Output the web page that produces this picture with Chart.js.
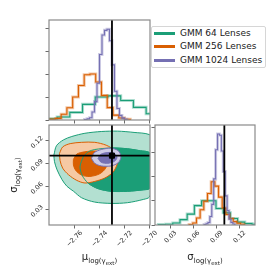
<!DOCTYPE html>
<html>
<head>
<meta charset="utf-8">
<script src="https://cdn.jsdelivr.net/npm/chart.js@4.4.0/dist/chart.umd.min.js"></script>
<style>
    body { margin: 0; width: 275px; height: 275px; background: #fff; position: relative; overflow: hidden; }
    canvas { position: absolute; left: 0; top: 0; }
    #legend {
        position: absolute; left: 151px; top: 26px; width: 115px; height: 42px;
        box-sizing: border-box; border: 1px solid #d6d6d6; border-radius: 2px; background: #fff;
        font: 9px "DejaVu Sans"; color: #1a1a1a;
    }
    #legend .row { position: relative; height: 13.3px; line-height: 13.3px; padding-left: 28px; white-space: nowrap; }
    #legend .sw { position: absolute; left: 1.5px; top: 5.2px; width: 21.5px; height: 3px; }
</style>
</head>
<body>
<canvas id="topHist" width="275" height="275"></canvas>
<canvas id="contour" width="275" height="275"></canvas>
<canvas id="sideHist" width="275" height="275"></canvas>
<div id="legend"></div>
<script>
const seriesNames = ['GMM 64 Lenses', 'GMM 256 Lenses', 'GMM 1024 Lenses'];
const seriesColors = ['#1b9e77', '#d95f02', '#7570b3'];
const seriesLight = ['#b3e0d1', '#f6c9a4', '#cdcbe6'];
const seriesHalo = ['rgba(27,158,119,0.35)', 'rgba(217,95,2,0.35)', 'rgba(117,112,179,0.35)'];

const truthMu = -2.73;
const truthSigma = 0.10;
const muRange = [-2.7805, -2.6995];
const sigmaRange = [0.0095, 0.1400];
const muTicks = [-2.76, -2.74, -2.72, -2.70];
const sigmaTicks = [0.03, 0.06, 0.09, 0.12];
const histTicks = [0, 1, 2, 3, 4];
const muHistMax = 4.35;
const sigmaHistMax = 4.12;

// titles: symbol + subscript pieces
const muSymbol = 'μ';
const sigmaSymbol = 'σ';
const titleSub = ['log(γ', 'ext', ')'];

// histograms: first bin edge, bin width, bin heights
const muBinStart = [-2.7842, -2.7800, -2.7520];
const muBinWidth = [0.0102, 0.00462, 0.0020];
const muHist64 = [0.05, 0.13, 0.33, 0.68, 1.0, 1.05, 0.85, 0.55, 0.27, 0.1];
const muHist256 = [0.03, 0.07, 0.25, 0.53, 1.0, 1.5, 1.97, 2.0, 1.65, 1.07, 0.54, 0.21, 0.09, 0.03];
const muHist1024 = [0.02, 0.05, 0.1, 0.35, 0.8, 1.6, 2.85, 3.7, 3.9, 3.95, 3.45, 2.4, 1.25, 0.5, 0.2, 0.08, 0.03];

const sigmaBinStart = [0.0139, 0.0540, 0.0736];
const sigmaBinWidth = [0.0094, 0.0048, 0.0025];
const sigmaHist64 = [0.02, 0.03, 0.08, 0.22, 0.45, 0.8, 1.0, 1.0, 0.68, 0.5, 0.27, 0.12, 0.06, 0.03];
const sigmaHist256 = [0.02, 0.08, 0.29, 0.63, 0.98, 1.3, 1.78, 1.6, 1.15, 0.7, 0.43, 0.27, 0.14, 0.07, 0.03];
const sigmaHist1024 = [0.02, 0.05, 0.1, 0.35, 0.85, 1.9, 3.1, 3.75, 3.7, 3.05, 2.2, 1.2, 0.6, 0.25, 0.1, 0.04];

// contour outlines [mu, sigma]
const contour64Outer = [[-2.7766, 0.1007], [-2.7745, 0.1130], [-2.7690, 0.1205], [-2.7622, 0.1250], [-2.7517, 0.1292],
    [-2.7386, 0.1315], [-2.7254, 0.1320], [-2.7123, 0.1303], [-2.7000, 0.1275], [-2.6940, 0.1180], [-2.6920, 0.1000],
    [-2.6940, 0.0700], [-2.7000, 0.0460], [-2.7045, 0.0430], [-2.7176, 0.0386], [-2.7307, 0.0377], [-2.7438, 0.0394],
    [-2.7543, 0.0450], [-2.7609, 0.0536], [-2.7661, 0.0600], [-2.7700, 0.0686], [-2.7740, 0.0814], [-2.7761, 0.0921]];
const contour64Inner = [[-2.7530, 0.0986], [-2.7490, 0.1050], [-2.7438, 0.1080], [-2.7307, 0.1100], [-2.7176, 0.1090],
    [-2.7071, 0.1063], [-2.7000, 0.1040], [-2.6950, 0.0900], [-2.6960, 0.0700], [-2.7000, 0.0570], [-2.7045, 0.0555],
    [-2.7176, 0.0535], [-2.7307, 0.0535], [-2.7412, 0.0570], [-2.7490, 0.0640], [-2.7538, 0.0740], [-2.7556, 0.0857]];
const contour256Outer = [[-2.7721, 0.1029], [-2.7695, 0.1114], [-2.7635, 0.1157], [-2.7543, 0.1174], [-2.7438, 0.1174],
    [-2.7346, 0.1136], [-2.7281, 0.1071], [-2.7249, 0.0986], [-2.7260, 0.0879], [-2.7294, 0.0780], [-2.7359, 0.0707],
    [-2.7438, 0.0664], [-2.7517, 0.0643], [-2.7582, 0.0677], [-2.7648, 0.0750], [-2.7695, 0.0836], [-2.7716, 0.0934]];
const contour256Inner = [[-2.7609, 0.0951], [-2.7582, 0.1020], [-2.7517, 0.1050], [-2.7425, 0.1059], [-2.7365, 0.1020],
    [-2.7338, 0.0934], [-2.7351, 0.0836], [-2.7399, 0.0763], [-2.7477, 0.0729], [-2.7543, 0.0746], [-2.7590, 0.0806],
    [-2.7609, 0.0879]];
const contour1024Outer = [[-2.7464, 0.0964], [-2.7443, 0.1037], [-2.7386, 0.1080], [-2.7307, 0.1097], [-2.7249, 0.1063],
    [-2.7228, 0.0986], [-2.7249, 0.0909], [-2.7307, 0.0866], [-2.7386, 0.0866], [-2.7438, 0.0900]];
const contour1024Inner = [[-2.7412, 0.0964], [-2.7391, 0.1016], [-2.7333, 0.1041], [-2.7280, 0.1029], [-2.7260, 0.0977],
    [-2.7280, 0.0926], [-2.7333, 0.0900], [-2.7386, 0.0913]];

function histPoints(start, width, heights) {
    const pts = [{x: start, y: 0}];
    heights.forEach((h, i) => pts.push({x: start + i * width, y: h}));
    const end = start + heights.length * width;
    pts.push({x: end, y: heights[heights.length - 1]});
    pts.push({x: end, y: 0});
    return pts;
}

function polyPoints(pairs) {
    const pts = pairs.map(p => ({x: p[0], y: p[1]}));
    pts.push({x: pairs[0][0], y: pairs[0][1]});
    return pts;
}

function histSets(starts, widths, hists) {
    const sets = [];
    hists.forEach((h, i) => {
        const pts = histPoints(starts[i], widths[i], h);
        sets.push({data: pts, stepped: true, borderColor: seriesHalo[i], borderWidth: 3, order: 20 - 2 * i});
        sets.push({data: pts, stepped: true, borderColor: seriesColors[i], borderWidth: 1.1, order: 19 - 2 * i});
    });
    return sets;
}

function linAxis(range, ticks, horizontal) {
    return {
        type: 'linear', min: range[0], max: range[1],
        afterBuildTicks: s => { s.ticks = ticks.map(v => ({value: v})); },
        afterFit: s => { if (horizontal) s.height = 0; else s.width = 0; },
        ticks: {display: false},
        grid: {drawOnChartArea: false, tickLength: 3.5, color: '#6a6a6a', lineWidth: 1},
        border: {display: false}
    };
}

function baseOptions(area, xAxis, yAxis) {
    return {
        responsive: false, animation: false, devicePixelRatio: 1,
        layout: {padding: {left: area[0], top: area[1], right: 275 - area[2], bottom: 275 - area[3]}},
        plugins: {legend: {display: false}, tooltip: {enabled: false}},
        elements: {point: {radius: 0}, line: {fill: false}},
        scales: {x: xAxis, y: yAxis}
    };
}

const framePlugin = {
    id: 'frame',
    afterDatasetsDraw(chart) {
        const {ctx, chartArea: a} = chart;
        ctx.save();
        ctx.strokeStyle = '#8a8a8a';
        ctx.lineWidth = 1.2;
        ctx.strokeRect(a.left, a.top, a.right - a.left, a.bottom - a.top);
        ctx.restore();
    }
};

const tickFont = '6.5px "DejaVu Sans"';
function fmtTick(v) { return v.toFixed(2).replace('-', '\u2212'); }

function drawXLabels(chart, values) {
    const {ctx, chartArea} = chart;
    const s = chart.scales.x;
    ctx.save();
    ctx.font = tickFont; ctx.fillStyle = '#262626';
    ctx.textAlign = 'center'; ctx.textBaseline = 'middle';
    values.forEach(v => {
        const t = fmtTick(v);
        const half = (ctx.measureText(t).width + 5) * Math.SQRT1_2 / 2;
        ctx.save();
        ctx.translate(s.getPixelForValue(v), chartArea.bottom + 5 + half);
        ctx.rotate(-Math.PI / 4);
        ctx.fillText(t, 0, 0);
        ctx.restore();
    });
    ctx.restore();
}

function drawYLabels(chart, values) {
    const {ctx, chartArea} = chart;
    const s = chart.scales.y;
    ctx.save();
    ctx.font = tickFont; ctx.fillStyle = '#262626';
    ctx.textAlign = 'center'; ctx.textBaseline = 'middle';
    values.forEach(v => {
        const t = fmtTick(v);
        const half = (ctx.measureText(t).width + 5) * Math.SQRT1_2 / 2;
        ctx.save();
        ctx.translate(chartArea.left - 5 - half, s.getPixelForValue(v) + 2);
        ctx.rotate(-Math.PI / 4);
        ctx.fillText(t, 0, 0);
        ctx.restore();
    });
    ctx.restore();
}

function drawParamTitle(ctx, x, y, sym, angle) {
    const parts = [[sym, 10, 0], [titleSub[0], 7, 2.5], [titleSub[1], 5.5, 4.5], [titleSub[2], 7, 2.5]];
    ctx.save();
    ctx.translate(x, y);
    ctx.rotate(angle);
    ctx.fillStyle = '#1a1a1a';
    ctx.textAlign = 'left'; ctx.textBaseline = 'alphabetic';
    const widths = parts.map(p => { ctx.font = p[1] + 'px "DejaVu Sans"'; return ctx.measureText(p[0]).width; });
    let cx = -widths.reduce((a, b) => a + b, 0) / 2;
    parts.forEach((p, i) => {
        ctx.font = p[1] + 'px "DejaVu Sans"';
        ctx.fillText(p[0], cx, p[2] + 3);
        cx += widths[i];
    });
    ctx.restore();
}

// top-left: mu histogram
const topSets = histSets(muBinStart, muBinWidth, [muHist64, muHist256, muHist1024]);
topSets.push({data: [{x: truthMu, y: 0}, {x: truthMu, y: muHistMax}], borderColor: '#000', borderWidth: 1.8, order: 0});
new Chart(document.getElementById('topHist'), {
    type: 'line',
    data: {datasets: topSets},
    options: baseOptions([49, 20, 150, 120],
        linAxis(muRange, muTicks, true),
        linAxis([0, muHistMax], histTicks, false)),
    plugins: [framePlugin]
});

// bottom-left: contours
const contourLayers = [
    [contour64Outer, 0, true, false], [contour64Inner, 0, true, true],
    [contour256Outer, 1, true, false], [contour256Inner, 1, true, true],
    [contour64Inner, 0, false, true],
    [contour1024Outer, 2, true, false], [contour1024Inner, 2, true, true]
];
const contourSets = contourLayers.map((c, k) => ({
    data: polyPoints(c[0]),
    fill: c[2] ? 'shape' : false,
    backgroundColor: c[3] ? seriesColors[c[1]] : seriesLight[c[1]],
    borderColor: seriesColors[c[1]],
    borderWidth: 1,
    tension: 0.3,
    order: 50 - k
}));
contourSets.push({data: [{x: truthMu, y: sigmaRange[0]}, {x: truthMu, y: sigmaRange[1]}], borderColor: '#000', borderWidth: 1.8, order: 2});
contourSets.push({data: [{x: muRange[0], y: truthSigma}, {x: muRange[1], y: truthSigma}], borderColor: '#000', borderWidth: 1.8, order: 1});
contourSets.push({data: [{x: truthMu, y: truthSigma}], showLine: false, pointStyle: 'rect', pointRadius: 3.6,
    backgroundColor: '#000', borderColor: '#000', order: 0});
new Chart(document.getElementById('contour'), {
    type: 'line',
    data: {datasets: contourSets},
    options: baseOptions([49, 125, 150, 225],
        linAxis(muRange, muTicks, true),
        linAxis(sigmaRange, sigmaTicks, false)),
    plugins: [framePlugin, {
        id: 'contourText',
        afterDraw(chart) {
            const a = chart.chartArea;
            drawXLabels(chart, muTicks);
            drawYLabels(chart, sigmaTicks);
            drawParamTitle(chart.ctx, (a.left + a.right) / 2, 257, muSymbol, 0);
            drawParamTitle(chart.ctx, 14, (a.top + a.bottom) / 2, sigmaSymbol, -Math.PI / 2);
        }
    }]
});

// bottom-right: sigma histogram
const sideSets = histSets(sigmaBinStart, sigmaBinWidth, [sigmaHist64, sigmaHist256, sigmaHist1024]);
sideSets.push({data: [{x: truthSigma, y: 0}, {x: truthSigma, y: sigmaHistMax}], borderColor: '#000', borderWidth: 1.8, order: 0});
new Chart(document.getElementById('sideHist'), {
    type: 'line',
    data: {datasets: sideSets},
    options: baseOptions([155, 125, 255, 225],
        linAxis(sigmaRange, sigmaTicks, true),
        linAxis([0, sigmaHistMax], histTicks, false)),
    plugins: [framePlugin, {
        id: 'sideText',
        afterDraw(chart) {
            const a = chart.chartArea;
            drawXLabels(chart, sigmaTicks);
            drawParamTitle(chart.ctx, (a.left + a.right) / 2, 257, sigmaSymbol, 0);
        }
    }]
});

// legend
const legend = document.getElementById('legend');
seriesNames.forEach((name, i) => {
    const row = document.createElement('div');
    row.className = 'row';
    row.innerHTML = '<span class="sw" style="background:' + seriesColors[i] + '"></span>' + name;
    legend.appendChild(row);
});
</script>
</body>
</html>
